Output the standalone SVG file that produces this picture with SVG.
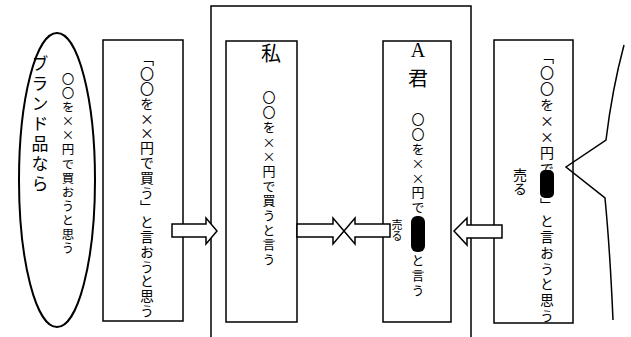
<svg xmlns="http://www.w3.org/2000/svg" width="631" height="337" viewBox="0 0 631 337">
<style>
.box{fill:#fff;stroke:#000;stroke-width:1.5}
.line{fill:none;stroke:#000;stroke-width:1.5}
.arr{fill:#fff;stroke:#000;stroke-width:1.5;stroke-linejoin:miter}
.v{font-family:"Noto Sans CJK JP","Noto Sans CJK SC",sans-serif;writing-mode:vertical-rl;fill:#000}
.h{font-family:"Noto Sans CJK JP","Noto Sans CJK SC",sans-serif;fill:#000}
.blob{fill:#000}
</style>
<rect width="631" height="337" fill="#fff"/>
<g id="frame">
<path class="line" d="M211,337 V6 H471 V337"/>
</g>
<g id="brand">
<ellipse cx="57" cy="180" rx="38" ry="147" fill="#fff" stroke="#000" stroke-width="2"/>
<text class="v" x="68" y="73" font-size="12.5" letter-spacing="1.6">〇〇を××円で買おうと思う</text>
<text class="v" x="40" y="55" font-size="17" letter-spacing="3">ブランド品なら</text>
</g>
<g id="box1">
<rect class="box" x="103" y="40" width="80" height="281"/>
<text class="v" x="147" y="52" font-size="14" letter-spacing="0.8">「〇〇を××円で買う」と言おうと思う</text>
</g>
<g id="watashi">
<rect class="box" x="226" y="41" width="71" height="281"/>
<text class="h" x="271" y="61" font-size="20" text-anchor="middle">私</text>
<text class="v" x="269" y="91" font-size="13" letter-spacing="1.7">〇〇を××円で買うと言う</text>
</g>
<g id="akun">
<rect class="box" x="383" y="41" width="68" height="281"/>
<text x="418" y="57" font-size="20" text-anchor="middle" font-family="Liberation Serif,serif">A</text>
<text class="h" x="418" y="86" font-size="20" text-anchor="middle">君</text>
<text class="v" x="418" y="113" font-size="13" letter-spacing="1.6">〇〇を××円で</text>
<rect class="blob" x="411" y="216" width="14" height="36" rx="6"/>
<text class="v" x="418" y="254" font-size="13" letter-spacing="1.6">と言う</text>
<text class="v" x="397" y="219" font-size="11" letter-spacing="0">売る</text>
</g>
<g id="seller">
<rect class="box" x="494" y="40" width="79" height="283"/>
<text class="v" x="547" y="50" font-size="14" letter-spacing="2">「〇〇を××円で</text>
<rect class="blob" x="540" y="170" width="14" height="28" rx="5"/>
<text class="v" x="547" y="198" font-size="14" letter-spacing="1.8">」と言おうと思う</text>
<text class="v" x="520" y="168" font-size="14" letter-spacing="0">売る</text>
</g>
<g id="bubble">
<path class="line" stroke-width="1.2" d="M624,45 Q612,90 606,140 L566,167 L605,198 Q610,250 613,320"/>
</g>
<g id="connectors">
<path class="arr" d="M172,224 H206 V218 L217,231 L206,244 V237 H172 Z"/>
<path class="arr" d="M297,224 H333 V218 L344,231 L333,244 V237 H297 Z"/>
<path class="arr" d="M390,224 H355 V218 L344,231 L355,244 V237 H390 Z"/>
<path class="arr" d="M502,225 H467 V218 L454,231 L467,245 V238 H502 Z"/>
</g>
</svg>
